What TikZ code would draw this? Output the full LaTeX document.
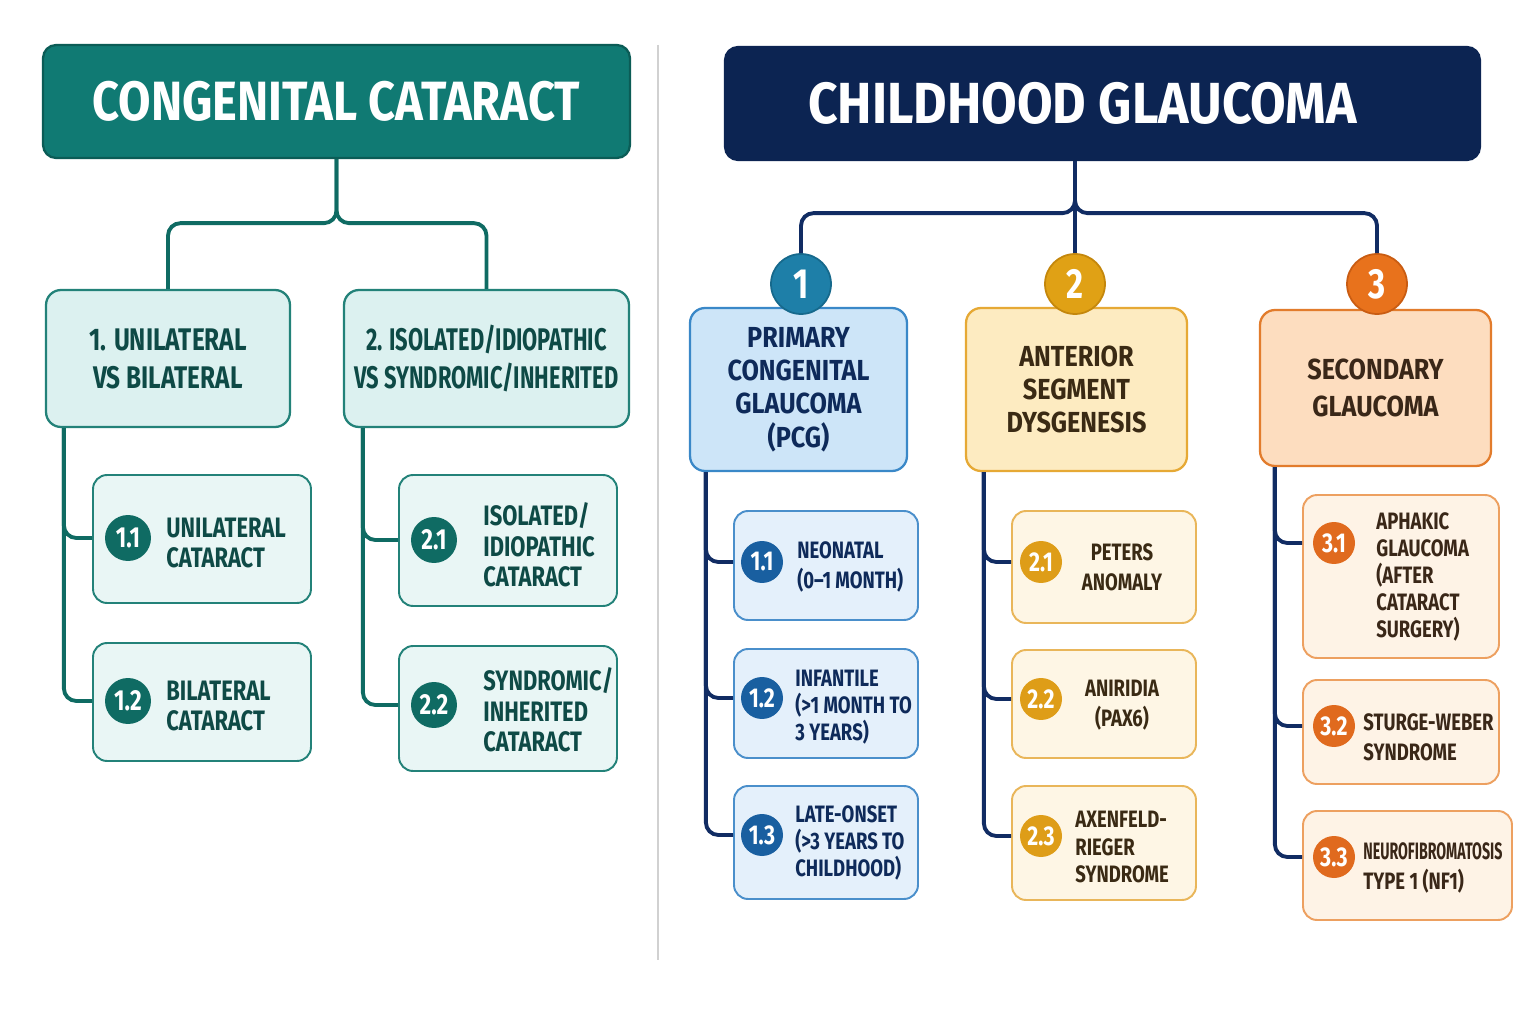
\documentclass[tikz,border=0pt]{standalone}
\usepackage{fontspec}
\setmainfont{Fira Sans}[FakeStretch=0.78]
\newfontfamily\narrowfont{Fira Sans}[FakeStretch=0.6]
\newfontfamily\condfont{Fira Sans}[FakeStretch=0.70]
\newfontfamily\midfont{Fira Sans}[FakeStretch=0.87]
\newfontfamily\cctitlefont{Fira Sans}[FakeStretch=0.85]
\newfontfamily\cgtitlefont{Fira Sans}[FakeStretch=0.89]

% colours
\definecolor{tealmain}{HTML}{107A73}
\definecolor{tealdk}{HTML}{0B5C56}
\definecolor{tealbd}{HTML}{238279}
\definecolor{teallt}{HTML}{DCF1F0}
\definecolor{tealxl}{HTML}{E9F6F5}
\definecolor{tealnum}{HTML}{0F6B63}
\definecolor{tealtx}{HTML}{0E4A46}
\definecolor{navy}{HTML}{0C2452}
\definecolor{navyln}{HTML}{112C63}
\definecolor{blubg}{HTML}{1E7FA8}
\definecolor{blubgd}{HTML}{16698C}
\definecolor{blubd}{HTML}{3A88C8}
\definecolor{blult}{HTML}{CDE5F8}
\definecolor{blusn}{HTML}{195FA0}
\definecolor{blusb}{HTML}{4A8FCB}
\definecolor{blusl}{HTML}{E4F0FB}
\definecolor{blutx}{HTML}{0E2A5A}
\definecolor{ambbg}{HTML}{E0A115}
\definecolor{ambbgd}{HTML}{C4870C}
\definecolor{ambbd}{HTML}{E6A935}
\definecolor{amblt}{HTML}{FDEBC1}
\definecolor{ambsn}{HTML}{DE9D18}
\definecolor{ambsb}{HTML}{E9B65A}
\definecolor{ambsl}{HTML}{FEF6E5}
\definecolor{ambtx}{HTML}{3A2A14}
\definecolor{orgbg}{HTML}{E8721C}
\definecolor{orgbgd}{HTML}{C95C12}
\definecolor{orgbd}{HTML}{E27C2C}
\definecolor{orglt}{HTML}{FDDDBF}
\definecolor{orgsn}{HTML}{E06A1E}
\definecolor{orgsb}{HTML}{EDA060}
\definecolor{orgsl}{HTML}{FEF3E6}
\definecolor{orgtx}{HTML}{3A2718}

\tikzset{
  cctitle/.style={rectangle, rounded corners=0.26cm, draw=tealdk, line width=1.3pt, fill=tealmain,
    text=white, inner sep=0pt, font=\cctitlefont\fontsize{31.5}{34}\selectfont\bfseries},
  cgtitle/.style={cctitle, draw=navy, fill=navy, font=\cgtitlefont\fontsize{33}{36}\selectfont\bfseries},
  lbox/.style={draw=tealbd, fill=teallt, line width=1.3pt, rounded corners=0.3cm, inner sep=0pt,
    text=tealtx, align=center, font=\fontsize{17.8}{21.6}\selectfont\bfseries},
  lsub/.style={draw=tealbd, fill=tealxl, line width=1.1pt, rounded corners=0.28cm, inner sep=0pt,
    minimum width=4.36cm},
  lnum/.style={circle, fill=tealnum, text=white, minimum size=0.92cm, inner sep=0pt,
    font=\fontsize{16.5}{16.5}\selectfont\bfseries},
  ltxt/.style={anchor=west, align=left, text=tealtx, inner sep=0pt,
    font=\fontsize{16}{17.4}\selectfont\bfseries},
  tline/.style={draw=tealnum, line width=2.2pt, rounded corners=0.25cm},
  nline/.style={draw=navyln, line width=2.2pt, rounded corners=0.25cm},
  gbox/.style={draw=#1bd, fill=#1lt, line width=1.3pt, rounded corners=0.3cm, inner sep=0pt,
    text=#1tx, align=center, font=\midfont\fontsize{16.5}{18.9}\selectfont\bfseries},
  gnum/.style={circle, draw=#1bgd, line width=1pt, fill=#1bg, text=white, minimum size=1.2cm,
    inner sep=0pt, font=\fontsize{24}{24}\selectfont\bfseries},
  gsub/.style={draw=#1sb, fill=#1sl, line width=1.1pt, rounded corners=0.28cm, inner sep=0pt,
    minimum width=3.68cm},
  snum/.style={circle, fill=#1sn, text=white, minimum size=0.84cm, inner sep=0pt,
    font=\fontsize{15.5}{15.5}\selectfont\bfseries},
  gtxt/.style={align=left, text=#1tx, inner sep=0pt, font=\fontsize{13.5}{17}\selectfont\bfseries},
  sepline/.style={draw=black!18, line width=1pt}
}

\begin{document}
\begin{tikzpicture}[x=0.02cm, y=-0.02cm]
  \fill[white] (0,0) rectangle (1536,1024);
  \useasboundingbox (0,0) rectangle (1536,1024);

  % separator
  \draw[sepline] (658,45) -- (658,960);

  % ---- congenital cataract ----
  \node[cctitle, minimum width=11.74cm, minimum height=2.26cm] (cc) at (336.5,101.5) {CONGENITAL CATARACT};
  \node[lbox, minimum width=4.88cm, minimum height=2.74cm] (b1) at (168,358.5) {1. UNILATERAL\\VS BILATERAL};
  \node[lbox, minimum width=5.70cm, minimum height=2.74cm, font=\condfont\fontsize{17.8}{21.6}\selectfont\bfseries] (b2) at (486.5,358.5) {2. ISOLATED/IDIOPATHIC\\VS SYNDROMIC/INHERITED};

  \node[lsub, minimum height=2.56cm] (s11) at (202,539) {};
  \node[lnum] (n11) at (128,538) {1.1};
  \node[ltxt] (t11) at (166,543) {UNILATERAL\\CATARACT};
  \node[lsub, minimum height=2.36cm] (s12) at (202,702) {};
  \node[lnum] (n12) at (128,701) {1.2};
  \node[ltxt] (t12) at (166,706) {BILATERAL\\CATARACT};
  \node[lsub, minimum height=2.62cm] (s21) at (508,540.5) {};
  \node[lnum] (n21) at (434,540) {2.1};
  \node[ltxt] (t21) at (483,545) {ISOLATED/\\IDIOPATHIC\\CATARACT};
  \node[lsub, minimum height=2.50cm] (s22) at (508,708.5) {};
  \node[lnum] (n22) at (434,705) {2.2};
  \node[ltxt] (t22) at (483,710) {SYNDROMIC/\\INHERITED\\CATARACT};

  \draw[tline] (cc.south) -- ++(0,64) -| (b1.north);
  \draw[tline] (cc.south) -- ++(0,64) -| (b2.north);
  \draw[tline] ([xshift=0.38cm]b1.south west) |- (n11 -| s11.west);
  \draw[tline] ([xshift=0.38cm]b1.south west) |- (n12 -| s12.west);
  \draw[tline] ([xshift=0.40cm]b2.south west) |- (n21 -| s21.west);
  \draw[tline] ([xshift=0.40cm]b2.south west) |- (n22 -| s22.west);

  % ---- childhood glaucoma ----
  \node[cgtitle, minimum width=15.10cm, minimum height=2.26cm] (cg) at (1102.5,103.5) {CHILDHOOD GLAUCOMA\hspace*{0.8cm}};

  \node[gbox=blu, minimum width=4.34cm, minimum height=3.26cm] (p1) at (798.5,389.5) {PRIMARY\\CONGENITAL\\GLAUCOMA\\(PCG)};
  \node[gbox=amb, minimum width=4.42cm, minimum height=3.26cm] (p2) at (1076.5,389.5) {ANTERIOR\\SEGMENT\\DYSGENESIS};
  \node[gbox=org, minimum width=4.62cm, minimum height=3.12cm, font=\midfont\fontsize{16.5}{20.8}\selectfont\bfseries] (p3) at (1375.5,388) {SECONDARY\\GLAUCOMA};
  \node[gnum=blu] (g1) at (801,284) {1};
  \node[gnum=amb] (g2) at (1075,284) {2};
  \node[gnum=org] (g3) at (1377,284) {3};

  \draw[nline] (cg.south -| g2) -- (g2.north);
  \draw[nline] (cg.south -| g2) -- ++(0,52) -| (g1.north);
  \draw[nline] (cg.south -| g2) -- ++(0,52) -| (g3.north);

  % PCG
  \node[gsub=blu, minimum height=2.18cm] (q11) at (826,565.5) {};
  \node[snum=blu] (m11) at (762,562) {1.1};
  \node[gtxt=blu, anchor=west] (u11) at (797,567) {NEONATAL\\(0--1 MONTH)};
  \node[gsub=blu, minimum height=2.18cm] (q12) at (826,703.5) {};
  \node[snum=blu] (m12) at (762,698) {1.2};
  \node[gtxt=blu, anchor=west, font=\fontsize{13.5}{15.3}\selectfont\bfseries] (u12) at (795,707) {INFANTILE\\(>1 MONTH TO\\3 YEARS)};
  \node[gsub=blu, minimum height=2.26cm] (q13) at (826,842.5) {};
  \node[snum=blu] (m13) at (762,835) {1.3};
  \node[gtxt=blu, anchor=west, font=\fontsize{13.5}{15.3}\selectfont\bfseries] (u13) at (795,843) {LATE-ONSET\\(>3 YEARS TO\\CHILDHOOD)};

  \draw[nline] ([xshift=0.34cm]p1.south west) |- (m11 -| q11.west);
  \draw[nline] ([xshift=0.34cm]p1.south west) |- (m12 -| q12.west);
  \draw[nline] ([xshift=0.34cm]p1.south west) |- (m13 -| q13.west);

  % ASD
  \node[gsub=amb, minimum height=2.24cm] (q21) at (1104,567) {};
  \node[snum=amb] (m21) at (1041,562) {2.1};
  \node[gtxt=amb, align=center] (u21) at (1122,567) {PETERS\\ANOMALY};
  \node[gsub=amb, minimum height=2.16cm] (q22) at (1104,704) {};
  \node[snum=amb] (m22) at (1041,699) {2.2};
  \node[gtxt=amb, align=center] (u22) at (1122,705) {ANIRIDIA\\(PAX6)};
  \node[gsub=amb, minimum height=2.28cm] (q23) at (1104,843) {};
  \node[snum=amb] (m23) at (1041,836) {2.3};
  \node[gtxt=amb, anchor=west, font=\fontsize{13.5}{15.5}\selectfont\bfseries] (u23) at (1075,847) {AXENFELD-\\RIEGER\\SYNDROME};

  \draw[nline] ([xshift=0.38cm]p2.south west) |- (m21 -| q21.west);
  \draw[nline] ([xshift=0.38cm]p2.south west) |- (m22 -| q22.west);
  \draw[nline] ([xshift=0.38cm]p2.south west) |- (m23 -| q23.west);

  % secondary
  \node[gsub=org, minimum width=3.92cm, minimum height=3.26cm] (q31) at (1401,576.5) {};
  \node[snum=org] (m31) at (1334,543) {3.1};
  \node[gtxt=org, anchor=west, font=\fontsize{13.5}{15.3}\selectfont\bfseries] (u31) at (1376,577) {APHAKIC\\GLAUCOMA\\(AFTER\\CATARACT\\SURGERY)};
  \node[gsub=org, minimum width=3.92cm, minimum height=2.08cm] (q32) at (1401,732) {};
  \node[snum=org] (m32) at (1334,726) {3.2};
  \node[gtxt=org, anchor=west] (u32) at (1363,737) {STURGE-WEBER\\SYNDROME};
  \node[gsub=org, minimum width=4.18cm, minimum height=2.18cm] (q33) at (1407.5,865.5) {};
  \node[snum=org] (m33) at (1334,857) {3.3};
  \node[gtxt=org, anchor=west] (u33) at (1363,868) {{\narrowfont NEUROFIBROMATOSIS}\\TYPE 1 (NF1)};

  \draw[nline] ([xshift=0.32cm]p3.south west) |- (m31 -| q31.west);
  \draw[nline] ([xshift=0.32cm]p3.south west) |- (m32 -| q32.west);
  \draw[nline] ([xshift=0.32cm]p3.south west) |- (m33 -| q33.west);
\end{tikzpicture}
\end{document}
